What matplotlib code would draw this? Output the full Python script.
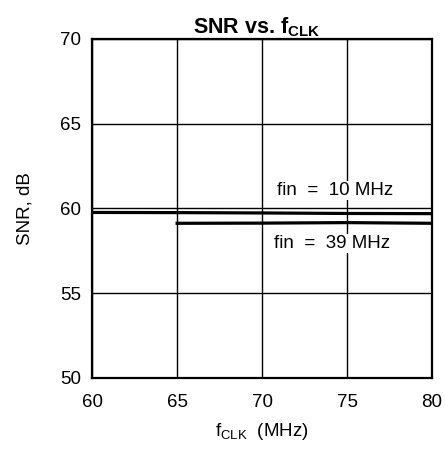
import numpy as np
import matplotlib
matplotlib.use('Agg')
import matplotlib.pyplot as plt

# SNR vs clock frequency for two input frequencies
fclk_10 = [60, 65, 70, 75, 80]
snr_10 = [59.76, 59.75, 59.73, 59.70, 59.69]
fclk_39 = [65, 70, 75, 80]
snr_39 = [59.12, 59.13, 59.16, 59.12]
xticks = [60, 65, 70, 75, 80]
yticks = [50, 55, 60, 65, 70]

plt.rcParams['font.family'] = 'Liberation Sans'
plt.rcParams['mathtext.default'] = 'regular'

fig = plt.figure(figsize=(4.45, 4.53), dpi=100)
ax = fig.add_axes([0.207, 0.166, 0.764, 0.748])

ax.plot(fclk_10, snr_10, color='black', lw=2.3, zorder=3)
ax.plot(fclk_39, snr_39, color='black', lw=2.3, zorder=3)

ax.set_xlim(60, 80)
ax.set_ylim(50, 70)
ax.set_xticks(xticks)
ax.set_yticks(yticks)
ax.grid(True, color='black', lw=1.0)
ax.tick_params(length=0, labelsize=13.5)
ax.tick_params(axis='y', pad=8)
ax.tick_params(axis='x', pad=12)
for sp in ax.spines.values():
    sp.set_linewidth(1.6)

box = dict(facecolor='white', edgecolor='none', pad=1)
ax.text(70.88, 60.80, 'fin  =  10 MHz', ha='left', va='baseline', fontsize=13.5, bbox=box, zorder=4)
ax.text(70.71, 57.67, 'fin  =  39 MHz', ha='left', va='baseline', fontsize=13.5, bbox=box, zorder=4)

ax.set_ylabel('SNR, dB', fontsize=13.5, labelpad=19)
ax.set_xlabel(r'f$_{CLK}$  (MHz)', fontsize=13.5, labelpad=7)
ax.set_title(r'SNR vs. f$_{CLK}$', fontsize=15.5, fontweight='bold', pad=3, x=0.485)

fig.savefig('out.png', dpi=100)
